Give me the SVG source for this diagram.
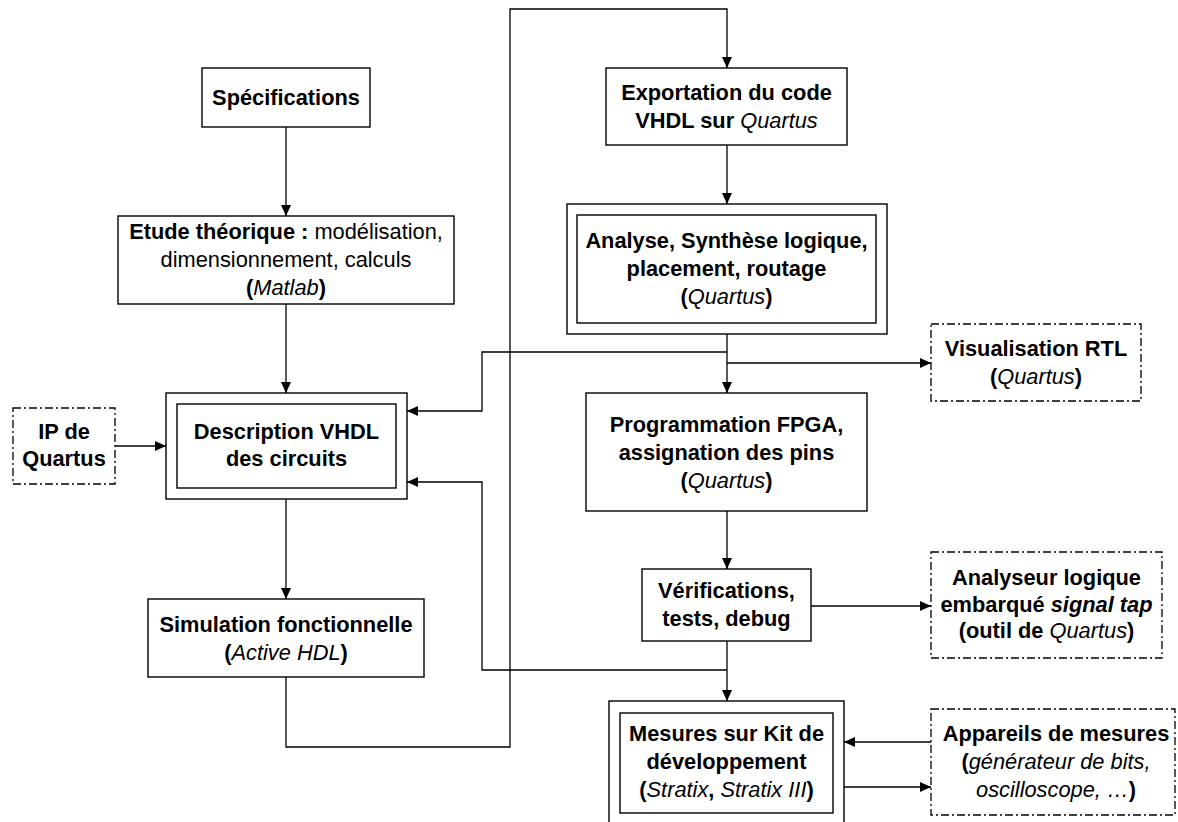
<svg xmlns="http://www.w3.org/2000/svg" width="1178" height="822" viewBox="0 0 1178 822">
<defs>
<marker id="ah" markerUnits="userSpaceOnUse" markerWidth="11" markerHeight="10" refX="11" refY="5" orient="auto">
<path d="M0,0 L11,5 L0,10 z" fill="#000"/>
</marker>
<style>
.box{fill:#fff;stroke:#000;stroke-width:1.4}
.dd{fill:#fff;stroke:#000;stroke-width:1.3;stroke-dasharray:8,3,2,3}
.c{fill:none;stroke:#000;stroke-width:1.3}
.a{fill:none;stroke:#000;stroke-width:1.3;marker-end:url(#ah)}
text{font-family:"Liberation Sans",Arial,sans-serif;font-size:21.8px;text-anchor:middle;fill:#000;font-weight:bold}
.n{font-weight:normal}
.i{font-style:italic;font-weight:normal}
.bi{font-style:italic;font-weight:bold}
</style>
</defs>
<rect width="1178" height="822" fill="#fff"/>
<g id="connectors">
<path class="a" d="M286,127 V216"/>
<path class="a" d="M286,304 V393"/>
<path class="a" d="M115,446 H166"/>
<path class="a" d="M286,499 V599"/>
<path class="a" d="M286,677 V747 H510 V9 H727 V68"/>
<path class="a" d="M727,145 V204"/>
<path class="a" d="M727,334 V393"/>
<path class="a" d="M727,352 H482 V411 H407"/>
<path class="a" d="M727,363 H931"/>
<path class="a" d="M727,511 V569"/>
<path class="a" d="M811,606 H931"/>
<path class="a" d="M727,641 V701"/>
<path class="a" d="M727,670 H482 V482 H407"/>
<path class="a" d="M931,742 H844"/>
<path class="a" d="M844,787 H931"/>
</g>
<g id="specifications">
<rect class="box" x="202" y="68" width="168" height="59"/>
<text x="286" y="105">Spécifications</text>
</g>
<g id="etude">
<rect class="box" x="118" y="216" width="336" height="88"/>
<text x="286" y="239">Etude théorique :<tspan class="n"> modélisation,</tspan></text>
<text x="286" y="267" class="n">dimensionnement, calculs</text>
<text x="286" y="295">(<tspan class="i">Matlab</tspan>)</text>
</g>
<g id="ip">
<rect class="dd" x="13" y="408" width="102" height="76"/>
<text x="64" y="439">IP de</text>
<text x="64" y="466">Quartus</text>
</g>
<g id="description">
<rect class="box" x="166" y="393" width="241" height="106"/>
<rect class="box" x="177" y="404" width="219" height="84"/>
<text x="286.5" y="439">Description VHDL</text>
<text x="286.5" y="466">des circuits</text>
</g>
<g id="simulation">
<rect class="box" x="148" y="599" width="276" height="78"/>
<text x="286" y="632">Simulation fonctionnelle</text>
<text x="286" y="660">(<tspan class="i">Active HDL</tspan>)</text>
</g>
<g id="exportation">
<rect class="box" x="606" y="68" width="241" height="77"/>
<text x="726.5" y="100">Exportation du code</text>
<text x="726.5" y="128">VHDL sur <tspan class="i">Quartus</tspan></text>
</g>
<g id="analyse">
<rect class="box" x="567" y="204" width="320" height="130"/>
<rect class="box" x="577" y="215" width="299" height="108"/>
<text x="726.5" y="248">Analyse, Synthèse logique,</text>
<text x="726.5" y="276">placement, routage</text>
<text x="726.5" y="304">(<tspan class="i">Quartus</tspan>)</text>
</g>
<g id="visualisation">
<rect class="dd" x="931" y="324" width="210" height="77"/>
<text x="1036" y="356">Visualisation RTL</text>
<text x="1036" y="384">(<tspan class="i">Quartus</tspan>)</text>
</g>
<g id="programmation">
<rect class="box" x="586" y="393" width="281" height="118"/>
<text x="726.5" y="432">Programmation FPGA,</text>
<text x="726.5" y="460">assignation des pins</text>
<text x="726.5" y="488">(<tspan class="i">Quartus</tspan>)</text>
</g>
<g id="verifications">
<rect class="box" x="642" y="569" width="169" height="72"/>
<text x="726.5" y="598">Vérifications,</text>
<text x="726.5" y="626">tests, debug</text>
</g>
<g id="analyseur">
<rect class="dd" x="931" y="552" width="231" height="106"/>
<text x="1046.5" y="585">Analyseur logique</text>
<text x="1046.5" y="612">embarqué <tspan class="bi">signal tap</tspan></text>
<text x="1046.5" y="638">(outil de <tspan class="i">Quartus</tspan>)</text>
</g>
<g id="mesures">
<rect class="box" x="609" y="701" width="235" height="130"/>
<rect class="box" x="620" y="713" width="213" height="100"/>
<text x="726.5" y="741">Mesures sur Kit de</text>
<text x="726.5" y="769">développement</text>
<text x="726.5" y="797">(<tspan class="i">Stratix</tspan>, <tspan class="i">Stratix III</tspan>)</text>
</g>
<g id="appareils">
<rect class="dd" x="931" y="709" width="244" height="106"/>
<text x="1056" y="741">Appareils de mesures</text>
<text x="1056" y="769">(<tspan class="i">générateur de bits,</tspan></text>
<text x="1056" y="797"><tspan class="i">oscilloscope, …</tspan>)</text>
</g>
</svg>
